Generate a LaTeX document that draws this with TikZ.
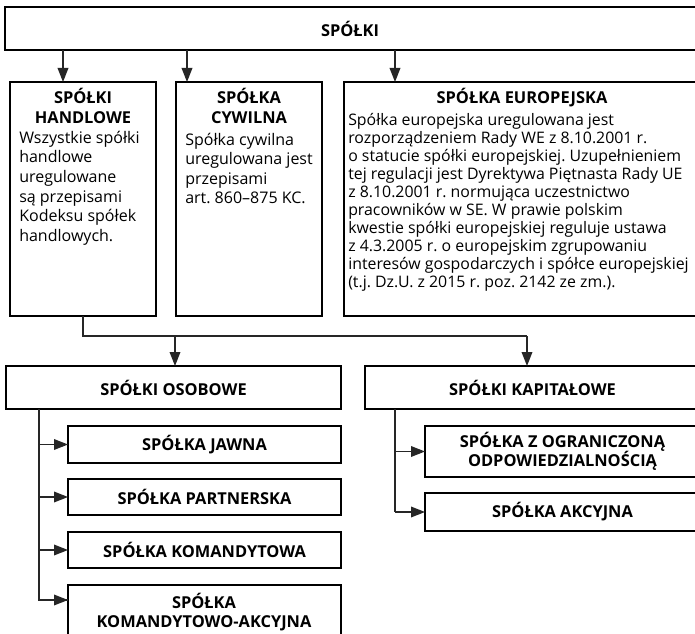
\documentclass[tikz,border=0pt]{standalone}
\usepackage{fontspec}
\setmainfont{Open Sans}
\frenchspacing
\usetikzlibrary{arrows.meta,calc}
\tikzset{
  boxx/.style={draw=black,line width=1pt,inner sep=0pt,outer sep=0pt,anchor=north west},
  topbox/.style={boxx,line width=1.8pt},
  hdr/.style={font=\fontsize{12.3}{14.7}\selectfont\bfseries,align=center,inner sep=0pt},
  bodyL/.style={font=\fontsize{12}{14.7}\selectfont,align=left,inner sep=0pt,anchor=west},
  bodyE/.style={font=\fontsize{11.9}{13.5}\selectfont,align=left,inner sep=0pt,anchor=west},
  conn/.style={draw=black!85,line width=1pt},
  arr/.style={conn,-{Triangle[length=10.5pt,width=8pt]}}
}
\newcommand\bxx[6][boxx]{\node[#1,minimum width=#5*0.75pt,minimum height=#6*0.75pt] (#2) at (#3,#4) {};}
\begin{document}
\begin{tikzpicture}[x=0.75pt,y=-0.75pt]
\useasboundingbox (0,0) rectangle (695,634);
\begin{scope}
\clip (0,0) rectangle (695,634);
% boxes
\bxx[topbox]{top}{5}{7}{695}{43}
\bxx{hand}{10}{82}{146}{234}
\bxx{cyw}{176}{82}{146}{234}
\bxx{euro}{344}{82}{356}{234}
\bxx{osob}{6}{366}{335}{43}
\bxx{kap}{365}{366}{335}{43}
\bxx{jawna}{68}{426}{273}{37}
\bxx{partn}{68}{479}{273}{36}
\bxx{koman}{68}{532}{273}{36}
\bxx{komak}{68}{585}{273}{56}
\bxx{szoo}{425}{426}{275}{51}
\bxx{akc}{425}{493}{275}{38}
% texts
\node[hdr] (ttop) at (350,28.5) {SPÓŁKI};
\node[hdr] (thand) at ($(hand.north)+(0,24)$) {SPÓŁKI\\HANDLOWE};
\node[bodyL] (bhand) at (19,188) {Wszystkie spółki\\handlowe\\uregulowane\\są przepisami\\Kodeksu spółek\\handlowych.};
\node[hdr] (tcyw) at ($(cyw.north)+(0,24)$) {SPÓŁKA\\CYWILNA};
\node[bodyL] (bcyw) at (185,168.5) {Spółka cywilna\\uregulowana jest\\przepisami\\art. 860–875 KC.};
\node[hdr] (teuro) at (522,97.5) {SPÓŁKA EUROPEJSKA};
\node[bodyE] (beuro) at (348,202) {Spółka europejska uregulowana jest\\rozporządzeniem Rady WE z 8.10.2001 r.\\o statucie spółki europejskiej. Uzupełnieniem\\tej regulacji jest Dyrektywa Piętnasta Rady UE\\z 8.10.2001 r. normująca uczestnictwo\\pracowników w SE. W prawie polskim\\kwestie spółki europejskiej reguluje ustawa\\z 4.3.2005 r. o europejskim zgrupowaniu\\interesów gospodarczych i spółce europejskiej\\(t.j. Dz.U. z 2015 r. poz. 2142 ze zm.).};
\node[hdr] (tosob) at (osob.center) {SPÓŁKI OSOBOWE};
\node[hdr] (tkap) at (kap.center) {SPÓŁKI KAPITAŁOWE};
\node[hdr] (tjawna) at (jawna.center) {SPÓŁKA JAWNA};
\node[hdr] (tpartn) at (partn.center) {SPÓŁKA PARTNERSKA};
\node[hdr] (tkoman) at (koman.center) {SPÓŁKA KOMANDYTOWA};
\node[hdr] (tkomak) at (204,612) {SPÓŁKA\\KOMANDYTOWO-AKCYJNA};
\node[hdr] (tszoo) at (szoo.center) {SPÓŁKA Z OGRANICZONĄ\\ODPOWIEDZIALNOŚCIĄ};
\node[hdr] (takc) at (akc.center) {SPÓŁKA AKCYJNA};
% connectors
\draw[arr] (63,0 |- top.south) -- (63,0 |- hand.north);
\draw[arr] (187,0 |- top.south) -- (187,0 |- cyw.north);
\draw[arr] (395,0 |- top.south) -- (395,0 |- euro.north);
\coordinate (j1) at (83,336);
\coordinate (j2) at (527,336);
\draw[conn] (83,0 |- hand.south) -- (j1) -- (j2);
\draw[arr] (175,336) -- (175,0 |- osob.north);
\draw[arr] (j2) -- (j2 |- kap.north);
\coordinate (o1) at (39,0 |- osob.south);
\coordinate (k1) at (395,0 |- kap.south);
\draw[conn] (o1) -- (39,600) -- (komak.west |- 0,600);
\draw[arr] (39,600) -- (komak.west |- 0,600);
\draw[arr] (39,0 |- jawna.west) -- (jawna.west);
\draw[arr] (39,0 |- partn.west) -- (partn.west);
\draw[arr] (39,0 |- koman.west) -- (koman.west);
\draw[conn] (k1) -- (395,0 |- akc.west);
\draw[arr] (395,0 |- szoo.west) -- (szoo.west);
\draw[arr] (395,0 |- akc.west) -- (akc.west);
\end{scope}
\end{tikzpicture}
\end{document}
